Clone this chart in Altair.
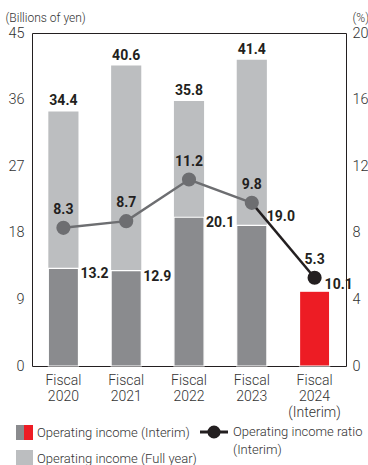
import altair as alt
import pandas as pd

years = ["Fiscal\n2020", "Fiscal\n2021", "Fiscal\n2022", "Fiscal\n2023", "Fiscal\n2024\n(Interim)"]
full_year = [34.4, 40.6, 35.8, 41.4, None]
interim = [13.2, 12.9, 20.1, 19.0, 10.1]
ratio = [8.3, 8.7, 11.2, 9.8, 5.3]
is_latest = [False, False, False, False, True]

df = pd.DataFrame({"year": years, "full": full_year, "interim": interim,
                   "ratio": ratio, "latest": is_latest, "idx": list(range(5))})

FONT = "Roboto"
INK = "#231f20"
GRAY_FULL = "#bcbec0"
GRAY_INT = "#8a8b8e"
RED = "#ed1c24"
LINE_GRAY = "#6d6e71"

xenc = alt.X("year:N", sort=years, scale=alt.Scale(paddingInner=0.52, paddingOuter=0.26),
             axis=alt.Axis(title=None, labelAngle=0, labelFontSize=14, labelColor="#333",
                           labelFont=FONT, labelFontWeight=300, ticks=False, domain=False,
                           labelPadding=7, labelLineHeight=16, labelBaseline="top",
                           labelExpr="split(datum.label, '\\n')"))
xs = alt.X("year:N", sort=years)

yleft = alt.Scale(domain=[0, 45])
yright = alt.Scale(domain=[0, 20])

def yl(field):
    return alt.Y(field, scale=yleft, axis=None)

def yrr(field):
    return alt.Y(field, scale=yright, axis=None)

base = alt.Chart(df)

full_bar = base.mark_bar(color=GRAY_FULL).encode(
    x=xenc,
    y=alt.Y("full:Q", scale=yleft,
            axis=alt.Axis(values=[0, 9, 18, 27, 36, 45], title="(Billions of yen)", titleAngle=0,
                          titleAlign="left", titleBaseline="middle", titleX=-27, titleY=-16, titleFontSize=12,
                          titleFontWeight=300, titleFont=FONT, titleColor="#333",
                          labelFontSize=14.5, labelFont=FONT, labelFontWeight=300, labelColor="#333",
                          ticks=False, domain=False, grid=False, labelPadding=8)),
)

int_bar = base.mark_bar(stroke="white", strokeWidth=1.2).encode(
    x=xs, y=yl("interim:Q"),
    color=alt.Color("latest:N", scale=alt.Scale(domain=[False, True], range=[GRAY_INT, RED]), legend=None),
)

full_lbl = base.mark_text(dy=-10, fontSize=14, fontWeight="bold", font=FONT, color=INK).encode(
    x=xs, y=yl("full:Q"), text=alt.Text("full:Q", format=".1f"))

int_lbl_low = base.transform_filter("datum.idx <= 2").mark_text(
    align="left", dx=17, dy=6, fontSize=14, fontWeight="bold", font=FONT, color=INK).encode(
    x=xs, y=yl("interim:Q"), text=alt.Text("interim:Q", format=".1f"))

int_lbl_23 = base.transform_filter("datum.idx == 3").mark_text(
    align="left", dx=15, dy=-8, fontSize=14, fontWeight="bold", font=FONT, color=INK).encode(
    x=xs, y=yl("interim:Q"), text=alt.Text("interim:Q", format=".1f"))

int_lbl_24 = base.transform_filter("datum.idx == 4").mark_text(
    align="left", dx=10, dy=-6, fontSize=14, fontWeight="bold", font=FONT, color=INK).encode(
    x=xs, y=yl("interim:Q"), text=alt.Text("interim:Q", format=".1f"))

line_gray = base.transform_filter("datum.idx <= 3").mark_line(color=LINE_GRAY, strokeWidth=2.5).encode(
    x=xs,
    y=alt.Y("ratio:Q", scale=yright,
            axis=alt.Axis(orient="right", values=[0, 4, 8, 12, 16, 20], title="(%)", titleAngle=0,
                          titleAlign="left", titleBaseline="middle", titleX=6, titleY=-16, titleFontSize=12,
                          titleFontWeight=300, titleFont=FONT, titleColor="#333",
                          labelFontSize=14.5, labelFont=FONT, labelFontWeight=300, labelColor="#333",
                          ticks=False, domain=False, grid=False, labelPadding=6)))
line_black = base.transform_filter("datum.idx >= 3").mark_line(color=INK, strokeWidth=2.5).encode(
    x=xs, y=yrr("ratio:Q"))
pts = base.mark_point(filled=True, size=200, opacity=1).encode(
    x=xs, y=yrr("ratio:Q"),
    color=alt.Color("latest:N", scale=alt.Scale(domain=[False, True], range=[LINE_GRAY, INK]), legend=None))
ratio_lbl = base.mark_text(dy=-18, fontSize=14, fontWeight="bold", font=FONT, color=INK).encode(
    x=xs, y=yrr("ratio:Q"), text=alt.Text("ratio:Q", format=".1f"))

# Legend
leg = pd.DataFrame({"k": [0]})
lb = alt.Chart(leg)
tstyle = dict(align="left", baseline="middle", fontSize=13, font=FONT, fontWeight=300, color="#333")
legend_parts = [
    lb.mark_rect(color=GRAY_INT).encode(x=alt.value(-16), x2=alt.value(-8), y=alt.value(392), y2=alt.value(407)),
    lb.mark_rect(color=RED).encode(x=alt.value(-8), x2=alt.value(1), y=alt.value(392), y2=alt.value(407)),
    lb.mark_rect(color=GRAY_FULL).encode(x=alt.value(-16), x2=alt.value(1), y=alt.value(417), y2=alt.value(432)),
    lb.mark_text(text="Operating income (Interim)", **tstyle).encode(x=alt.value(5), y=alt.value(400)),
    lb.mark_text(text="Operating income (Full year)", **tstyle).encode(x=alt.value(5), y=alt.value(426)),
    lb.mark_rule(color=INK, strokeWidth=3).encode(x=alt.value(168), x2=alt.value(196), y=alt.value(399)),
    lb.mark_point(filled=True, size=170, opacity=1, color=INK).encode(x=alt.value(182), y=alt.value(399)),
    lb.mark_text(text="Operating income ratio", **tstyle).encode(x=alt.value(201), y=alt.value(399)),
    lb.mark_text(text="(Interim)", **tstyle).encode(x=alt.value(201), y=alt.value(417)),
]

chart = alt.layer(full_bar, int_bar, full_lbl, int_lbl_low, int_lbl_23, int_lbl_24,
                  line_gray, line_black, pts, ratio_lbl, *legend_parts).resolve_scale(
    y="independent", color="independent").properties(
    width=314, height=333,
    autosize=alt.AutoSizeParams(type="none"),
    padding={"left": 32, "top": 33, "right": 22, "bottom": 99},
).configure_view(stroke=INK, strokeWidth=1)

chart.save("out.html", embed_options={"renderer": "svg", "actions": False})
